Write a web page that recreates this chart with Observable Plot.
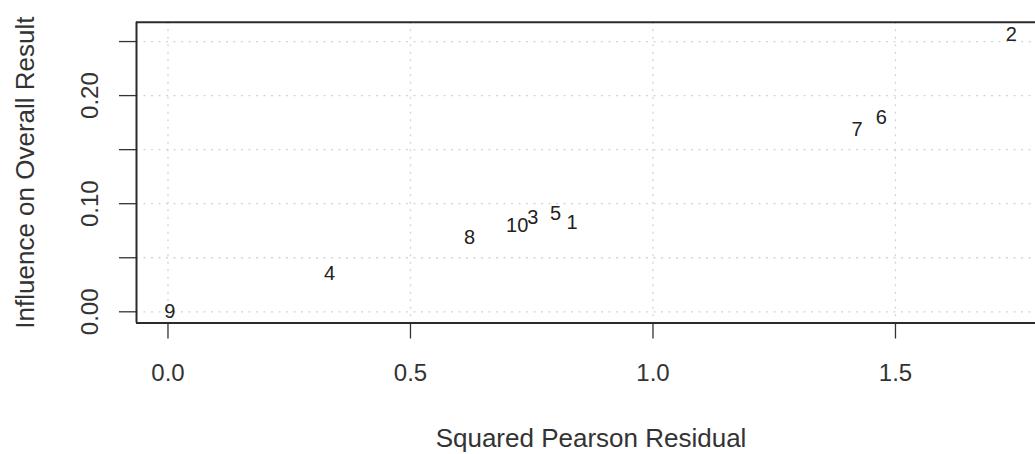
<!DOCTYPE html>
<html><head><meta charset="utf-8">
<script src="https://cdn.jsdelivr.net/npm/d3@7"></script>
<script src="https://cdn.jsdelivr.net/npm/@observablehq/plot@0.6"></script>
<style>html,body{margin:0;padding:0;background:#fff;overflow:hidden} svg{display:block}</style>
</head><body><div id="chart"></div>
<script>
const labels = ["1","2","3","4","5","6","7","8","9","10"];
const residual = [0.833, 1.739, 0.752, 0.333, 0.799, 1.471, 1.421, 0.622, 0.004, 0.720];
const influence = [0.0829, 0.2565, 0.087, 0.0352, 0.0907, 0.180, 0.1684, 0.069, 0.000, 0.0798];
const xTicks = [0, 0.5, 1.0, 1.5];
const xTickLabels = ["0.0", "0.5", "1.0", "1.5"];
const yTicks = [0, 0.05, 0.10, 0.15, 0.20, 0.25];
const yTickLabels = ["0.00", "", "0.10", "", "0.20", ""];
const xDomain = [-0.0649, 1.7887];
const yDomain = [-0.01036, 0.2679];
const xTitle = "Squared Pearson Residual";
const yTitle = "Influence on Overall Result";

const data = labels.map((l, i) => ({label: l, x: residual[i], y: influence[i]}));
const font = '"Liberation Sans", Arial, Helvetica, sans-serif';
const frameStyle = {stroke: "#2b2b2b", strokeWidth: 2};
const gridStyle = {stroke: "#d3d3d3", strokeOpacity: 1, strokeDasharray: "2,5.5", strokeWidth: 1.3};

const chart = Plot.plot({
  width: 1035, height: 454,
  marginLeft: 136, marginRight: 0, marginTop: 21.7, marginBottom: 131.5,
  style: {fontFamily: font, background: "#fff"},
  x: {domain: xDomain},
  y: {domain: yDomain},
  marks: [
    Plot.gridX(xTicks, gridStyle),
    Plot.gridY(yTicks, gridStyle),
    Plot.ruleY([yDomain[1]], frameStyle),
    Plot.ruleY([yDomain[0]], frameStyle),
    Plot.ruleX([xDomain[0]], frameStyle),
    Plot.axisX(xTicks, {tickSize: 16, tickPadding: 24.5, tickFormat: (d, i) => xTickLabels[i], fontSize: 24, label: null, color: "#333", strokeWidth: 1.3}),
    Plot.axisY(yTicks, {tickSize: 17, tickPadding: 21.5, tickRotate: -90, tickFormat: (d, i) => yTickLabels[i], fontSize: 24, label: null, color: "#333", strokeWidth: 1.3}),
    Plot.text(data, {x: "x", y: "y", text: "label", fontSize: 20, fill: "#222"}),
    Plot.text([xTitle], {text: d => d, frameAnchor: "bottom", textAnchor: "middle", lineAnchor: "bottom", dy: 123.5, dx: 5, fontSize: 26, fill: "#333"}),
    Plot.text([yTitle], {text: d => d, frameAnchor: "left", textAnchor: "middle", rotate: -90, lineAnchor: "bottom", dx: -103, fontSize: 26, fill: "#333"})
  ]
});
document.getElementById("chart").appendChild(chart);
</script>
</body></html>
